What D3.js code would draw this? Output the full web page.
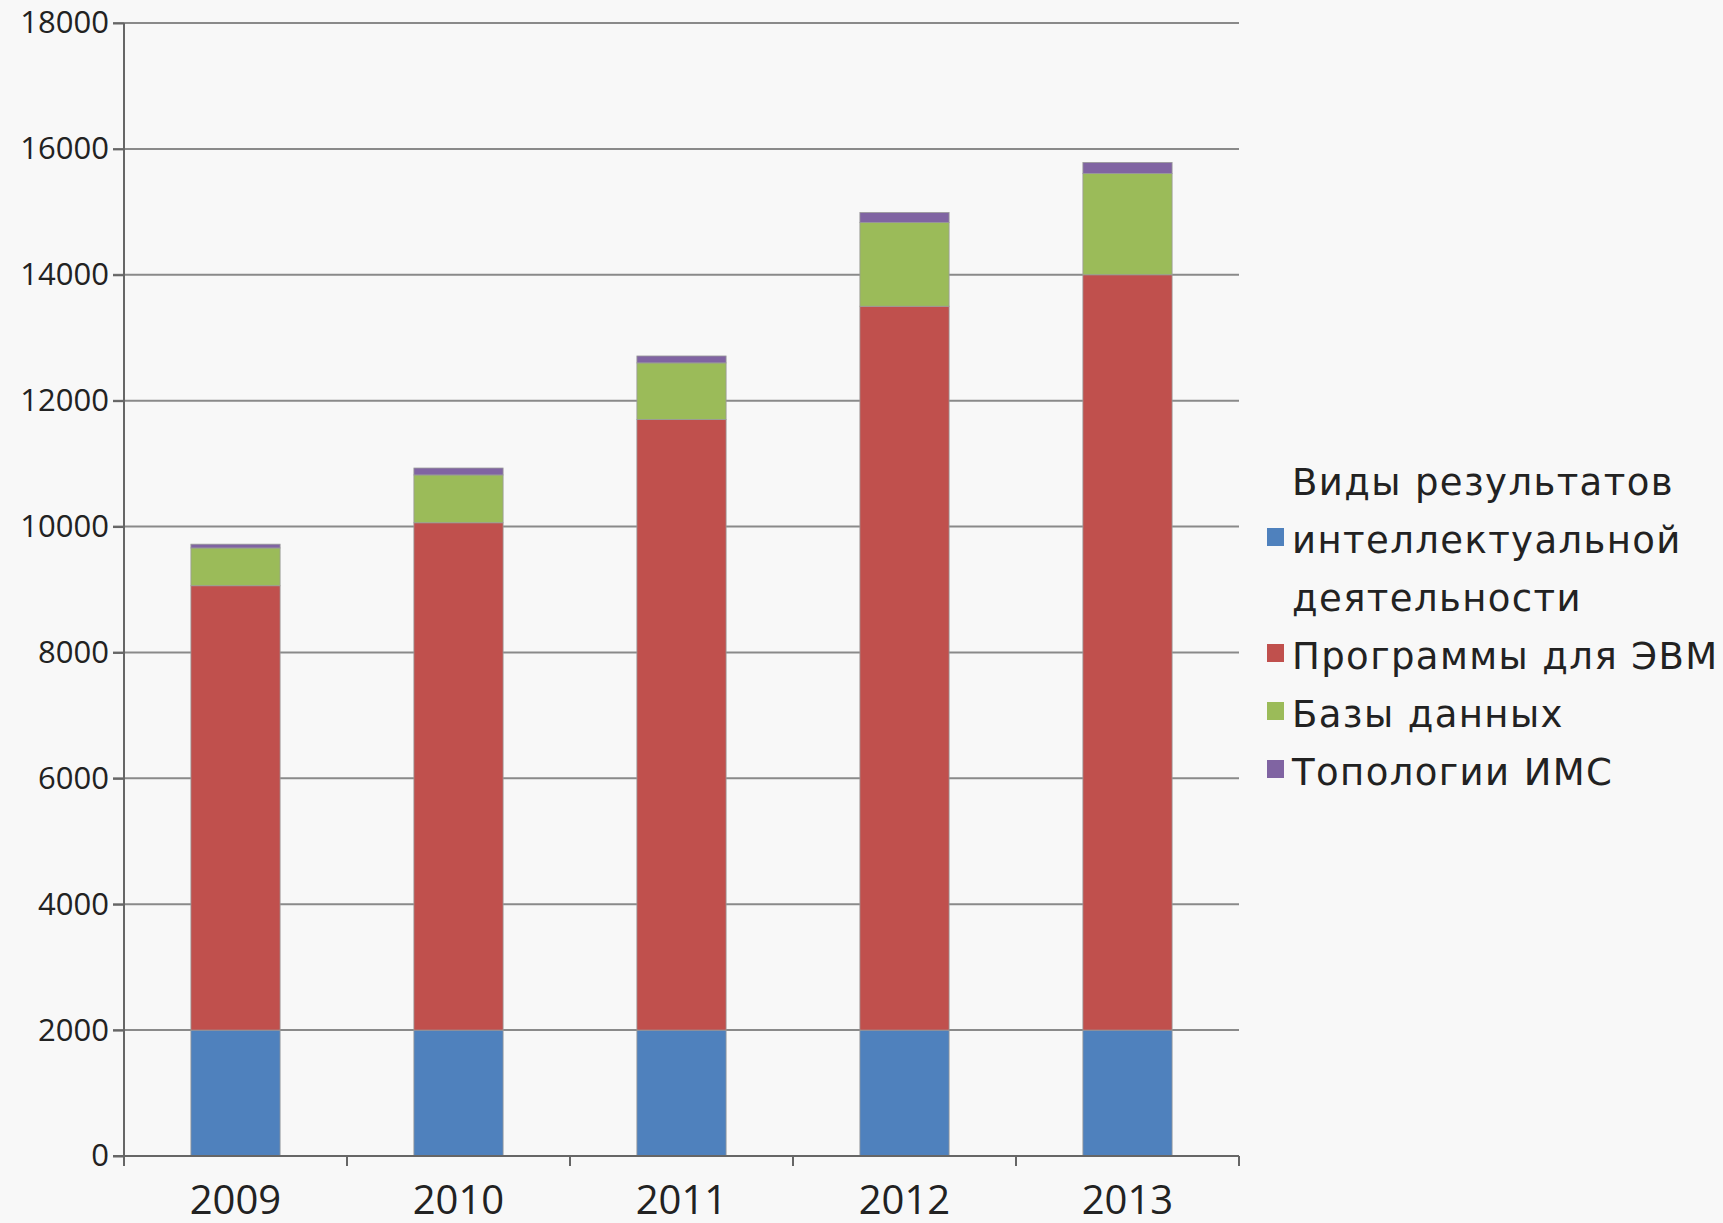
<!DOCTYPE html>
<html>
<head>
<meta charset="utf-8">
<script src="https://cdn.jsdelivr.net/npm/d3@7"></script>
<style>
  body { margin: 0; background: #f8f8f8; }
  svg { display: block; }
</style>
</head>
<body>
<svg id="chart" width="1723" height="1223"></svg>
<script>
const years = ["2009", "2010", "2011", "2012", "2013"];
const seriesNames = [
  "Виды результатов интеллектуальной деятельности",
  "Программы для ЭВМ",
  "Базы данных",
  "Топологии ИМС"
];
const legendLines = [
  ["Виды результатов", "интеллектуальной", "деятельности"],
  ["Программы для ЭВМ"],
  ["Базы данных"],
  ["Топологии ИМС"]
];
const intellect = [2000, 2000, 2000, 2000, 2000];
const programs = [7060, 8060, 9700, 11500, 12000];
const databases = [600, 760, 900, 1330, 1610];
const topologies = [60, 110, 110, 160, 175];
const yTicks = [0, 2000, 4000, 6000, 8000, 10000, 12000, 14000, 16000, 18000];
const colors = ["#4f81bd", "#c0504d", "#9bbb59", "#8064a2"];

const values = [intellect, programs, databases, topologies];
const rows = years.map((y, i) => {
  const r = { year: y };
  seriesNames.forEach((s, k) => r[s] = values[k][i]);
  return r;
});

const svg = d3.select("#chart");
const plotL = 124, plotR = 1239, plotT = 23, plotB = 1156;

const x = d3.scaleBand().domain(years).range([plotL, plotR]).paddingInner(0.6).paddingOuter(0.3);
const xb = d3.scaleBand().domain(years).range([plotL, plotR]);
const y = d3.scaleLinear().domain([0, 18000]).range([plotB, plotT]);

// gridlines
svg.append("g")
  .selectAll("line")
  .data(yTicks.slice(1))
  .join("line")
    .attr("x1", plotL - 11)
    .attr("x2", plotR)
    .attr("y1", d => y(d))
    .attr("y2", d => y(d))
    .attr("stroke", "#8a8a8a")
    .attr("stroke-width", 2);

// stacked bars
const stack = d3.stack().keys(seriesNames)(rows);
svg.append("g")
  .selectAll("g")
  .data(stack)
  .join("g")
    .attr("fill", (d, i) => colors[i])
  .selectAll("rect")
  .data(d => d)
  .join("rect")
    .attr("x", d => x(d.data.year))
    .attr("y", d => y(d[1]))
    .attr("width", x.bandwidth())
    .attr("height", d => y(d[0]) - y(d[1]))
    .attr("stroke", "#9a9a9a")
    .attr("stroke-width", 0.8);

// y axis
svg.append("g")
  .attr("transform", `translate(${plotL},0)`)
  .call(d3.axisLeft(y).tickValues(yTicks).tickSize(11).tickPadding(4).tickFormat(d3.format("d")))
  .call(g => g.select(".domain").attr("d", `M0,${plotT}V${plotB + 10}`).attr("stroke", "#666").attr("stroke-width", 2))
  .call(g => g.selectAll(".tick line").attr("stroke", "#666").attr("stroke-width", 2))
  .call(g => g.selectAll(".tick text")
    .attr("font-family", "Open Sans")
    .attr("font-size", 31)
    .attr("fill", "#222"));

// x axis
svg.append("g")
  .attr("transform", `translate(0,${plotB})`)
  .call(g => g.append("line")
    .attr("x1", plotL - 11).attr("x2", plotR)
    .attr("stroke", "#666").attr("stroke-width", 2))
  .call(g => g.selectAll(".bt")
    .data(years.map(d => xb(d) + xb.bandwidth()))
    .join("line")
      .attr("class", "bt")
      .attr("x1", d => d).attr("x2", d => d)
      .attr("y1", 0).attr("y2", 10)
      .attr("stroke", "#666").attr("stroke-width", 2))
  .call(g => g.selectAll("text")
    .data(years)
    .join("text")
      .attr("x", d => xb(d) + xb.bandwidth() / 2)
      .attr("y", 58)
      .attr("text-anchor", "middle")
      .attr("font-family", "Open Sans")
      .attr("font-size", 40)
      .attr("fill", "#222")
      .text(d => d));

// legend
const lineH = 58;
const legend = svg.append("g").attr("transform", "translate(1267,0)");
let baseY = 495;
legendLines.forEach((lines, i) => {
  const mid = baseY + lineH * (lines.length - 1) / 2;
  legend.append("rect")
    .attr("x", 0)
    .attr("y", mid - 25)
    .attr("width", 17)
    .attr("height", 18)
    .attr("fill", colors[i]);
  lines.forEach((t, j) => {
    legend.append("text")
      .attr("x", 25)
      .attr("y", baseY + j * lineH)
      .attr("font-family", "DejaVu Sans")
      .attr("font-size", 37)
      .attr("letter-spacing", 1.4)
      .attr("fill", "#222")
      .text(t);
  });
  baseY += lines.length * lineH;
});
</script>
</body>
</html>
